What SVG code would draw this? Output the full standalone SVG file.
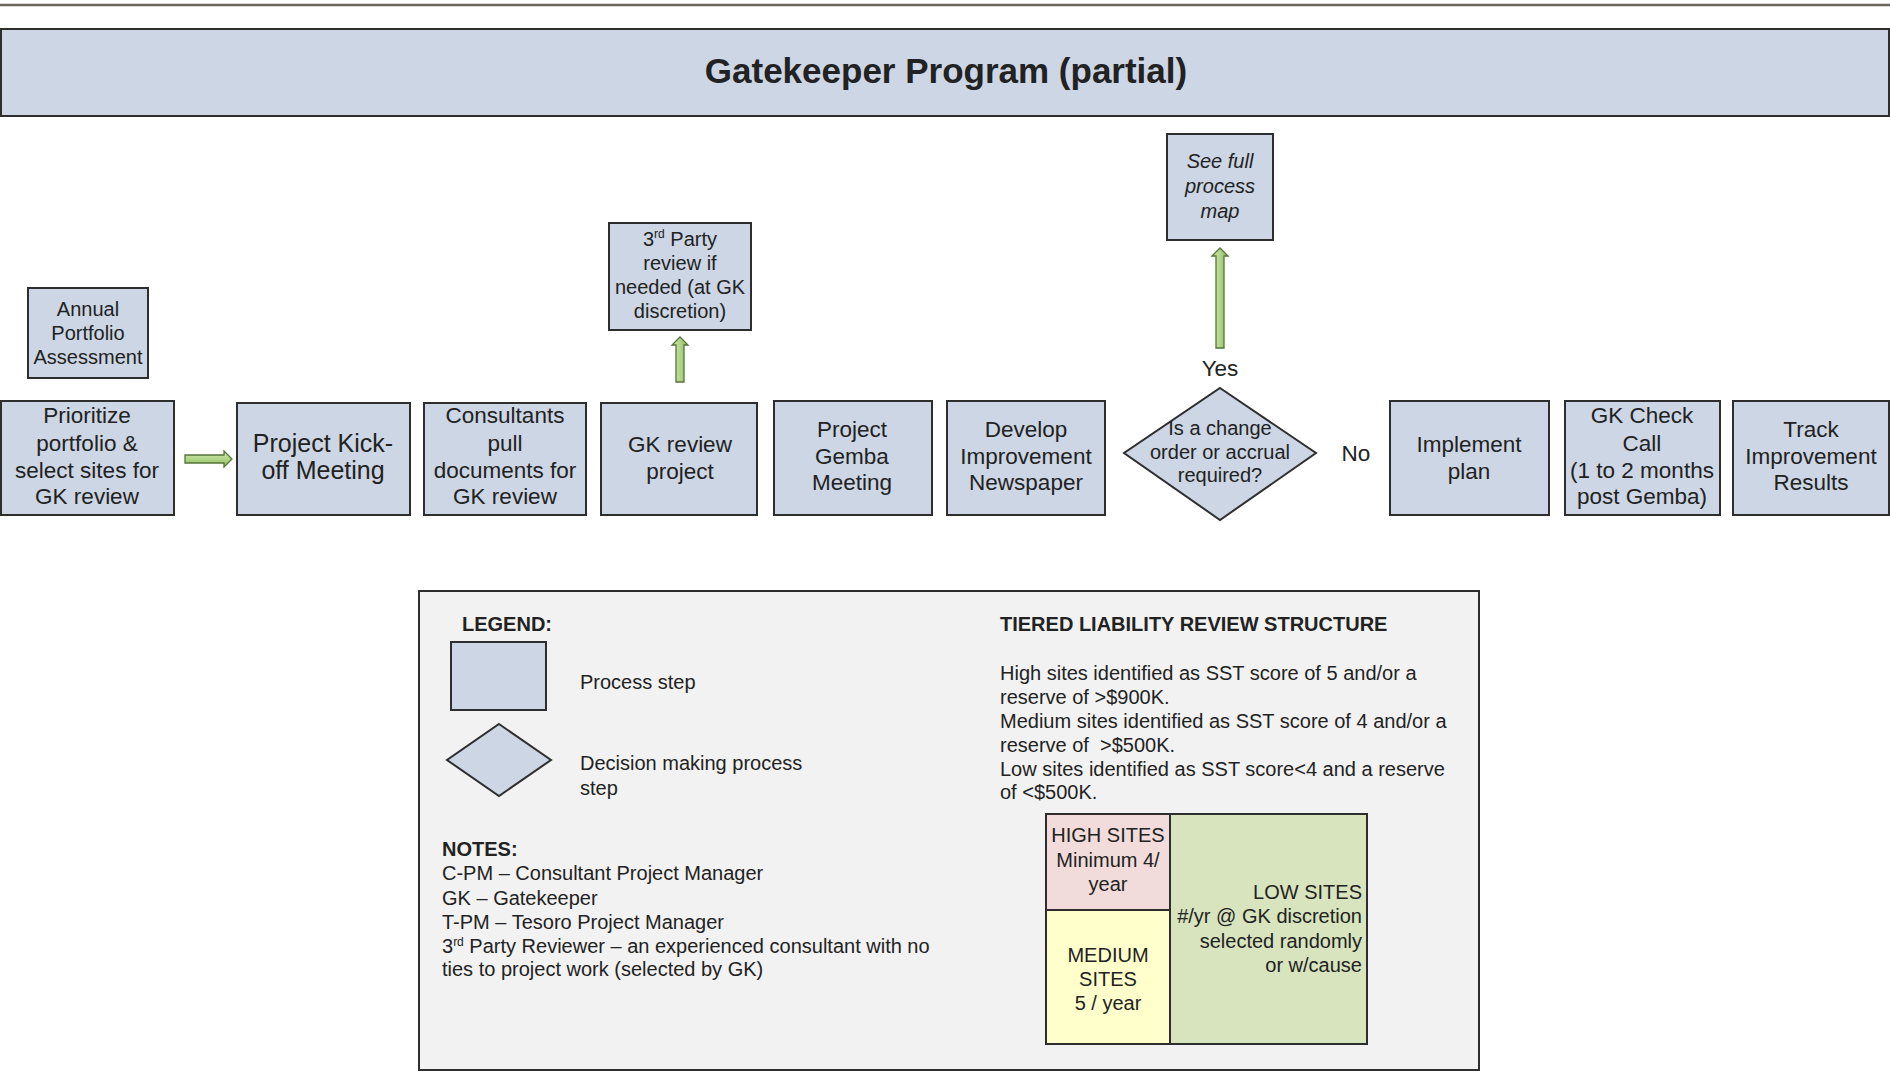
<svg xmlns="http://www.w3.org/2000/svg" width="1890" height="1087" viewBox="0 0 1890 1087">
<defs>
<linearGradient id="gH" x1="0" y1="0" x2="0" y2="1"><stop offset="0" stop-color="#d3eab5"/><stop offset="1" stop-color="#8fc05c"/></linearGradient>
<linearGradient id="gV" x1="0" y1="0" x2="1" y2="0"><stop offset="0" stop-color="#d3eab5"/><stop offset="1" stop-color="#8fc05c"/></linearGradient>
</defs>
<style>
.bx{fill:#ccd6e4;stroke:#2e2e2e;stroke-width:2}
.t{font-family:"Liberation Sans",Arial,sans-serif;fill:#222;text-anchor:middle}
.s20{font-size:20px}
.s22{font-size:22.5px}
.s25{font-size:25px}
.l{font-family:"Liberation Sans",Arial,sans-serif;fill:#222;font-size:20px}
.b{font-weight:bold}
.arr{stroke:#55733a;stroke-width:1.3}
.cell{stroke:#2e2e2e;stroke-width:2}
</style>
<rect width="1890" height="1087" fill="#ffffff"/>
<line x1="0" y1="5" x2="1890" y2="5" stroke="#6b6560" stroke-width="2.5"/>
<g id="title">
<rect class="bx" x="1" y="29" width="1888" height="87"/>
<text class="t b" x="946" y="83" font-size="35">Gatekeeper Program (partial)</text>
</g>
<g id="annual">
<rect class="bx" x="28" y="288" width="120" height="90"/>
<text class="t s20"><tspan x="88" y="316">Annual</tspan><tspan x="88" y="340">Portfolio</tspan><tspan x="88" y="364">Assessment</tspan></text>
</g>
<g id="prioritize">
<rect class="bx" x="1" y="401" width="173" height="114"/>
<text class="t s22"><tspan x="87" y="423">Prioritize</tspan><tspan x="87" y="451">portfolio &amp;</tspan><tspan x="87" y="478">select sites for</tspan><tspan x="87" y="504">GK review</tspan></text>
</g>
<g id="kickoff">
<rect class="bx" x="237" y="403" width="173" height="112"/>
<text class="t s25"><tspan x="323" y="452">Project Kick-</tspan><tspan x="323" y="479">off Meeting</tspan></text>
</g>
<g id="consultants">
<rect class="bx" x="424" y="403" width="162" height="112"/>
<text class="t s22"><tspan x="505" y="423">Consultants</tspan><tspan x="505" y="451">pull</tspan><tspan x="505" y="478">documents for</tspan><tspan x="505" y="504">GK review</tspan></text>
</g>
<g id="gkreview">
<rect class="bx" x="601" y="403" width="156" height="112"/>
<text class="t s22"><tspan x="680" y="452">GK review</tspan><tspan x="680" y="479">project</tspan></text>
</g>
<g id="thirdparty">
<rect class="bx" x="609" y="223" width="142" height="107"/>
<text class="t s20"><tspan x="680" y="246">3<tspan font-size="12" dy="-8">rd</tspan><tspan dy="8"> Party</tspan></tspan><tspan x="680" y="270">review if</tspan><tspan x="680" y="294">needed (at GK</tspan><tspan x="680" y="318">discretion)</tspan></text>
</g>
<g id="gemba">
<rect class="bx" x="774" y="401" width="158" height="114"/>
<text class="t s22"><tspan x="852" y="437">Project</tspan><tspan x="852" y="464">Gemba</tspan><tspan x="852" y="490">Meeting</tspan></text>
</g>
<g id="newspaper">
<rect class="bx" x="947" y="401" width="158" height="114"/>
<text class="t s22"><tspan x="1026" y="437">Develop</tspan><tspan x="1026" y="464">Improvement</tspan><tspan x="1026" y="490">Newspaper</tspan></text>
</g>
<g id="decision">
<polygon class="bx" points="1220,388 1316,453 1220,520 1124,453"/>
<text class="t s20"><tspan x="1220" y="435">Is a change</tspan><tspan x="1220" y="459">order or accrual</tspan><tspan x="1220" y="482">required?</tspan></text>
</g>
<g id="seefull">
<rect class="bx" x="1167" y="134" width="106" height="106"/>
<text class="t s20" font-style="italic"><tspan x="1220" y="168">See full</tspan><tspan x="1220" y="193">process</tspan><tspan x="1220" y="218">map</tspan></text>
</g>
<g id="implement">
<rect class="bx" x="1390" y="401" width="159" height="114"/>
<text class="t s22"><tspan x="1469" y="452">Implement</tspan><tspan x="1469" y="479">plan</tspan></text>
</g>
<g id="checkcall">
<rect class="bx" x="1565" y="401" width="155" height="114"/>
<text class="t s22"><tspan x="1642" y="423">GK Check</tspan><tspan x="1642" y="451">Call</tspan><tspan x="1642" y="478">(1 to 2 months</tspan><tspan x="1642" y="504">post Gemba)</tspan></text>
</g>
<g id="track">
<rect class="bx" x="1733" y="401" width="156" height="114"/>
<text class="t s22"><tspan x="1811" y="437">Track</tspan><tspan x="1811" y="464">Improvement</tspan><tspan x="1811" y="490">Results</tspan></text>
</g>
<g id="connectors">
<path class="arr" fill="url(#gH)" d="M185,455 H224 V451 L232,459 L224,467 V463 H185 Z"/>
<path class="arr" fill="url(#gV)" d="M676,382 V345 H672 L680,337 L688,345 H684 V382 Z"/>
<path class="arr" fill="url(#gV)" d="M1216,348 V256 H1212 L1220,248 L1228,256 H1224 V348 Z"/>
<text class="t s22" x="1220" y="376">Yes</text>
<text class="t s22" x="1356" y="461">No</text>
</g>
<g id="legend">
<rect x="419" y="591" width="1060" height="479" fill="#f2f2f2" stroke="#2e2e2e" stroke-width="2"/>
<text class="l b" x="462" y="631">LEGEND:</text>
<rect class="bx" x="451" y="642" width="95" height="68"/>
<text class="l" x="580" y="689">Process step</text>
<polygon class="bx" points="499,724 551,760 499,796 447,760"/>
<text class="l"><tspan x="580" y="770">Decision making process</tspan><tspan x="580" y="795">step</tspan></text>
<text class="l b" x="442" y="856">NOTES:</text>
<text class="l"><tspan x="442" y="880">C-PM – Consultant Project Manager</tspan><tspan x="442" y="905">GK – Gatekeeper</tspan><tspan x="442" y="929">T-PM – Tesoro Project Manager</tspan><tspan x="442" y="953">3<tspan font-size="12" dy="-7">rd</tspan><tspan dy="7"> Party Reviewer – an experienced consultant with no</tspan></tspan><tspan x="442" y="976">ties to project work (selected by GK)</tspan></text>
<text class="l b" x="1000" y="631">TIERED LIABILITY REVIEW STRUCTURE</text>
<text class="l"><tspan x="1000" y="680">High sites identified as SST score of 5 and/or a</tspan><tspan x="1000" y="704">reserve of &gt;$900K.</tspan><tspan x="1000" y="728">Medium sites identified as SST score of 4 and/or a</tspan><tspan x="1000" y="752">reserve of&#160; &gt;$500K.</tspan><tspan x="1000" y="776">Low sites identified as SST score&lt;4 and a reserve</tspan><tspan x="1000" y="799">of &lt;$500K.</tspan></text>
</g>
<g id="tiers">
<rect class="cell" x="1046" y="814" width="124" height="96" fill="#f2dcdb"/>
<rect class="cell" x="1046" y="910" width="124" height="134" fill="#ffffcc"/>
<rect class="cell" x="1170" y="814" width="197" height="230" fill="#d7e4bd"/>
<text class="l" text-anchor="middle"><tspan x="1108" y="842">HIGH SITES</tspan><tspan x="1108" y="867">Minimum 4/</tspan><tspan x="1108" y="891">year</tspan></text>
<text class="l" text-anchor="middle"><tspan x="1108" y="962">MEDIUM</tspan><tspan x="1108" y="986">SITES</tspan><tspan x="1108" y="1010">5 / year</tspan></text>
<text class="l" text-anchor="end"><tspan x="1362" y="899">LOW SITES</tspan><tspan x="1362" y="923">#/yr @ GK discretion</tspan><tspan x="1362" y="948">selected randomly</tspan><tspan x="1362" y="972">or w/cause</tspan></text>
</g>
</svg>
